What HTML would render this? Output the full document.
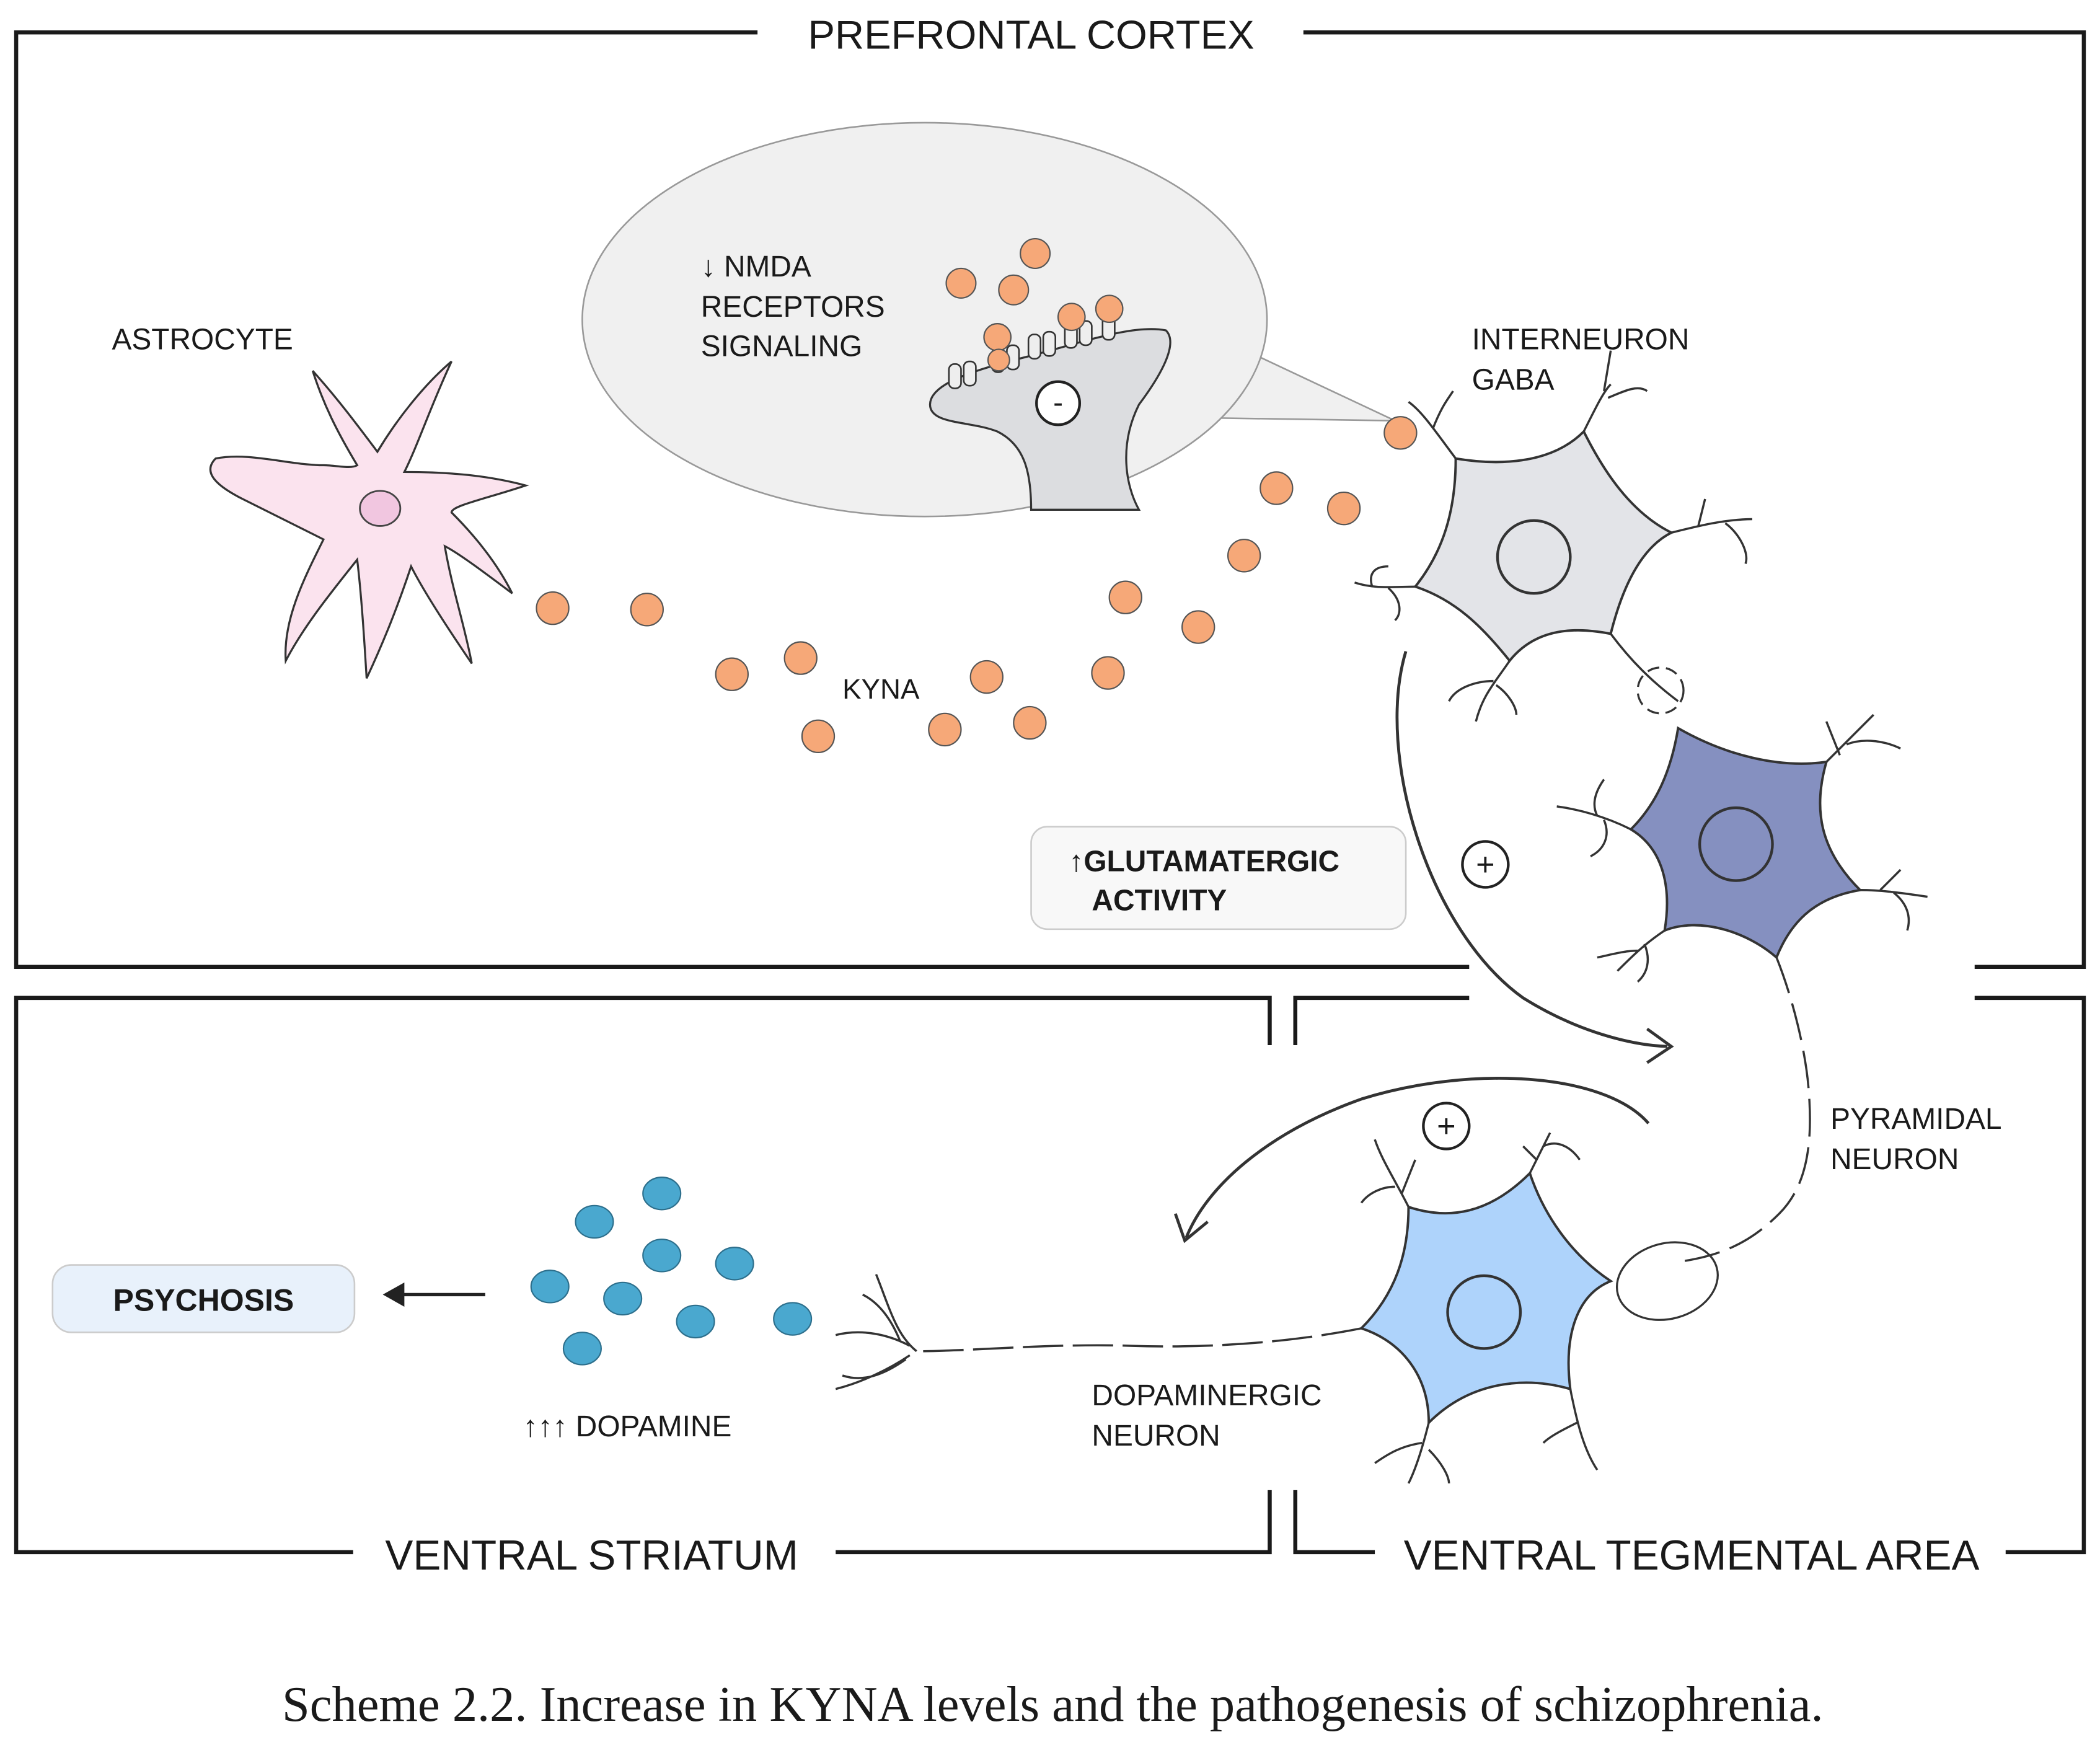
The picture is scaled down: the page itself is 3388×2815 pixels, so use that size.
<!DOCTYPE html>
<html><head><meta charset="utf-8"><style>
html,body{margin:0;padding:0;background:#fff;}
svg{display:block}
text{font-family:"Liberation Sans",sans-serif;fill:#1a1a1a}
</style></head><body>
<svg width="3388" height="2815" viewBox="0 0 1558 1294" preserveAspectRatio="none" xmlns="http://www.w3.org/2000/svg">
<g fill="none" stroke="#1a1a1a" stroke-width="3">
<polyline points="562,24 12,24 12,717 1090,717"/>
<polyline points="967,24 1546,24 1546,717 1465,717"/>
<polyline points="942,775 942,740 12,740 12,1151 262,1151"/>
<polyline points="620,1151 942,1151 942,1105"/>
<polyline points="961,775 961,740 1090,740"/>
<polyline points="1465,740 1546,740 1546,1151 1488,1151"/>
<polyline points="961,1105 961,1151 1020,1151"/>
</g>
<text x="765" y="36" font-size="30" text-anchor="middle">PREFRONTAL CORTEX</text>
<text x="439" y="1164" font-size="31" text-anchor="middle">VENTRAL STRIATUM</text>
<text x="1255" y="1164" font-size="31" text-anchor="middle">VENTRAL TEGMENTAL AREA</text>
<text x="781" y="1276" font-size="37" text-anchor="middle" style="font-family:'Liberation Serif',serif">Scheme 2.2. Increase in KYNA levels and the pathogenesis of schizophrenia.</text>

<path d="M905,310 L1035,312 L935,265" fill="#f0f0f0" stroke="#999" stroke-width="1.2"/>
<ellipse cx="686" cy="237" rx="254" ry="146" fill="#f0f0f0" stroke="#999" stroke-width="1.2"/>
<path d="M690,300 C690,285 720,275 760,265 C800,255 840,240 865,245 C875,255 860,280 845,300 C830,330 835,360 845,378 L765,378 C765,350 760,330 740,320 C720,312 690,315 690,300Z" fill="#dcdde0" stroke="#333" stroke-width="1.5"/>
<g fill="#eee" stroke="#333" stroke-width="1.2">
<rect x="704" y="270" width="9" height="18" rx="4"/><rect x="715" y="268" width="9" height="18" rx="4"/>
<rect x="736" y="258" width="9" height="18" rx="4"/><rect x="747" y="256" width="9" height="18" rx="4"/>
<rect x="763" y="248" width="9" height="18" rx="4"/><rect x="774" y="246" width="9" height="18" rx="4"/>
<rect x="790" y="240" width="9" height="18" rx="4"/><rect x="801" y="238" width="9" height="18" rx="4"/>
<rect x="818" y="234" width="9" height="18" rx="4"/>
</g>
<circle cx="785" cy="299" r="16" fill="#fff" stroke="#222" stroke-width="2"/>
<text x="785" y="306" font-size="22" text-anchor="middle">-</text>
<text x="520" y="205" font-size="22">↓ NMDA</text>
<text x="520" y="235" font-size="22">RECEPTORS</text>
<text x="520" y="264" font-size="22">SIGNALING</text>

<g fill="#f6a878" stroke="#555" stroke-width="1">
<circle cx="768" cy="188" r="11"/><circle cx="713" cy="210" r="11"/><circle cx="752" cy="215" r="11"/>
<circle cx="795" cy="235" r="10"/><circle cx="823" cy="229" r="10"/><circle cx="740" cy="250" r="10"/><circle cx="741" cy="267" r="8"/>
<circle cx="1039" cy="321" r="12"/><circle cx="947" cy="362" r="12"/><circle cx="997" cy="377" r="12"/>
<circle cx="923" cy="412" r="12"/><circle cx="835" cy="443" r="12"/><circle cx="889" cy="465" r="12"/>
<circle cx="822" cy="499" r="12"/><circle cx="732" cy="502" r="12"/><circle cx="764" cy="536" r="12"/>
<circle cx="701" cy="541" r="12"/><circle cx="607" cy="546" r="12"/><circle cx="594" cy="488" r="12"/>
<circle cx="543" cy="500" r="12"/><circle cx="480" cy="452" r="12"/><circle cx="410" cy="451" r="12"/>
</g>
<text x="625" y="518" font-size="21">KYNA</text>

<path d="M265,345 C250,320 240,300 232,275 C250,295 265,315 280,335 C295,310 315,285 335,268 C320,300 310,330 300,350 C330,350 360,352 390,360 C360,370 335,375 335,380 C355,400 370,420 380,440 C360,425 340,410 330,405 C335,435 345,465 350,492 C335,470 315,440 305,420 C295,450 285,475 272,503 C270,470 268,440 265,415 C245,440 225,465 212,490 C210,460 225,430 240,400 C220,390 200,380 180,370 C160,360 150,350 160,340 C185,335 215,345 240,345 C250,345 260,348 265,345Z" fill="#fbe3ee" stroke="#333" stroke-width="1.5"/>
<ellipse cx="282" cy="377" rx="15" ry="13" fill="#f1c6e0" stroke="#444" stroke-width="1.3"/>
<text x="83" y="259" font-size="22">ASTROCYTE</text>

<path d="M1080,340 C1110,345 1150,345 1175,320 C1190,350 1210,380 1240,395 C1220,405 1205,430 1195,470 C1170,465 1140,465 1120,490 C1100,465 1080,445 1050,435 C1070,410 1080,380 1080,340Z" fill="#e3e4e8" stroke="#333" stroke-width="1.8"/>
<circle cx="1138" cy="413" r="27" fill="#e3e4e8" stroke="#333" stroke-width="2"/>
<g fill="none" stroke="#333" stroke-width="1.6">
<path d="M1080,340 C1065,320 1055,305 1045,298 M1063,318 C1070,300 1075,295 1078,290"/>
<path d="M1175,320 C1185,300 1190,290 1195,285 M1190,290 L1195,260 M1193,295 C1205,290 1215,285 1222,290"/>
<path d="M1240,395 C1260,390 1280,385 1300,385 M1260,390 L1265,370 M1280,388 C1290,395 1298,410 1295,418"/>
<path d="M1050,435 C1035,435 1020,437 1005,432 M1030,436 C1040,445 1040,455 1035,460 M1018,435 C1015,425 1020,420 1030,420"/>
<path d="M1120,490 C1110,505 1100,515 1095,535 M1108,505 C1095,505 1080,510 1075,520 M1110,508 C1120,515 1125,525 1125,530"/>
<path d="M1195,470 C1210,490 1225,505 1245,520"/>
</g>
<circle cx="1232" cy="512" r="17" fill="none" stroke="#333" stroke-width="1.5" stroke-dasharray="9,5"/>
<text x="1092" y="259" font-size="22">INTERNEURON</text>
<text x="1092" y="289" font-size="22">GABA</text>

<path d="M1245,540 C1280,560 1320,570 1355,565 C1345,600 1350,630 1380,660 C1350,665 1330,680 1318,710 C1295,690 1260,680 1235,690 C1240,660 1235,630 1210,615 C1230,595 1240,570 1245,540Z" fill="#8590c0" stroke="#333" stroke-width="1.8"/>
<circle cx="1288" cy="626" r="27" fill="#8590c0" stroke="#333" stroke-width="2"/>
<g fill="none" stroke="#333" stroke-width="1.6">
<path d="M1355,565 L1390,530 M1370,552 C1380,548 1395,548 1410,555 M1365,560 L1355,535"/>
<path d="M1380,660 C1395,660 1410,662 1430,665 M1395,660 L1410,645 M1405,662 C1415,670 1418,680 1415,690"/>
<path d="M1210,615 C1190,605 1170,600 1155,598 M1185,605 C1180,595 1185,585 1190,578 M1190,608 C1195,620 1190,630 1180,635"/>
<path d="M1235,690 C1220,700 1210,710 1200,720 M1215,705 C1205,705 1195,708 1185,710 M1220,700 C1225,712 1222,722 1215,728"/>
</g>
<path d="M1318,710 C1330,740 1340,780 1342,810 C1345,850 1340,880 1320,900 C1300,920 1280,930 1250,935" fill="none" stroke="#333" stroke-width="1.6" stroke-dasharray="28,8"/>
<text x="1358" y="837" font-size="22">PYRAMIDAL</text>
<text x="1358" y="867" font-size="22">NEURON</text>

<path d="M1045,895 C1075,905 1105,900 1135,870 C1145,900 1165,930 1195,950 C1170,960 1160,990 1165,1030 C1130,1020 1090,1025 1060,1055 C1060,1020 1040,995 1010,985 C1035,960 1045,930 1045,895Z" fill="#aed3fb" stroke="#333" stroke-width="1.8"/>
<circle cx="1101" cy="973" r="27" fill="#aed3fb" stroke="#333" stroke-width="2"/>
<g fill="none" stroke="#333" stroke-width="1.6">
<path d="M1045,895 C1035,875 1025,860 1020,845 M1035,880 C1025,880 1015,885 1010,892 M1040,885 L1050,860"/>
<path d="M1135,870 L1150,840 M1145,850 C1155,845 1165,850 1172,860 M1140,860 L1130,850"/>
<path d="M1165,1030 C1170,1055 1175,1075 1185,1090 M1170,1055 C1160,1060 1150,1065 1145,1070"/>
<path d="M1060,1055 C1055,1075 1050,1090 1045,1100 M1055,1070 C1040,1072 1030,1078 1020,1085 M1060,1075 C1070,1085 1075,1095 1075,1100"/>
</g>
<ellipse cx="1237" cy="950" rx="38" ry="28" fill="none" stroke="#333" stroke-width="1.5" transform="rotate(-15 1237 950)"/>
<path d="M1010,985 C960,995 900,1000 840,998 C780,996 720,1002 680,1002" fill="none" stroke="#333" stroke-width="1.6" stroke-dasharray="30,7"/>
<g fill="none" stroke="#333" stroke-width="1.6">
<path d="M680,1002 C665,990 660,970 650,945 M675,998 C660,990 640,985 620,990 M675,1005 C660,1015 640,1025 620,1030 M672,1008 C655,1020 640,1025 625,1020 M668,995 C660,975 650,965 640,960"/>
</g>
<text x="810" y="1042" font-size="22">DOPAMINERGIC</text>
<text x="810" y="1072" font-size="22">NEURON</text>

<path d="M1043,483 C1020,560 1060,690 1130,740 C1170,765 1210,775 1237,776" fill="none" stroke="#333" stroke-width="2.2"/>
<path d="M1222,763 L1240,776 L1222,788" fill="none" stroke="#333" stroke-width="2.2"/>
<circle cx="1102" cy="641" r="17" fill="#fff" stroke="#222" stroke-width="2"/>
<text x="1102" y="649" font-size="24" text-anchor="middle">+</text>
<path d="M1223,833 C1190,795 1090,790 1010,815 C940,840 895,880 880,918" fill="none" stroke="#333" stroke-width="2.2"/>
<path d="M872,900 L879,920 L896,906" fill="none" stroke="#333" stroke-width="2.2"/>
<circle cx="1073" cy="835" r="17" fill="#fff" stroke="#222" stroke-width="2"/>
<text x="1073" y="843" font-size="24" text-anchor="middle">+</text>

<rect x="765" y="613" width="278" height="76" rx="12" fill="#f8f8f8" stroke="#ccc" stroke-width="1.2"/>
<text x="793" y="646" font-size="22" font-weight="bold">↑GLUTAMATERGIC</text>
<text x="810" y="675" font-size="22" font-weight="bold">ACTIVITY</text>

<g fill="#4aa8cf" stroke="#2d6f8c" stroke-width="1">
<ellipse cx="491" cy="885" rx="14" ry="12"/><ellipse cx="441" cy="906" rx="14" ry="12"/>
<ellipse cx="491" cy="931" rx="14" ry="12"/><ellipse cx="545" cy="937" rx="14" ry="12"/>
<ellipse cx="408" cy="954" rx="14" ry="12"/><ellipse cx="462" cy="963" rx="14" ry="12"/>
<ellipse cx="516" cy="980" rx="14" ry="12"/><ellipse cx="588" cy="978" rx="14" ry="12"/>
<ellipse cx="432" cy="1000" rx="14" ry="12"/>
</g>
<text x="388" y="1065" font-size="22">↑↑↑ DOPAMINE</text>

<rect x="39" y="938" width="224" height="50" rx="14" fill="#e8f1fb" stroke="#ccc" stroke-width="1.2"/>
<text x="151" y="972" font-size="23" font-weight="bold" text-anchor="middle">PSYCHOSIS</text>
<line x1="360" y1="960" x2="298" y2="960" stroke="#222" stroke-width="2.5"/>
<path d="M300,951 L284,960 L300,969Z" fill="#222"/>
</svg>
</body></html>
